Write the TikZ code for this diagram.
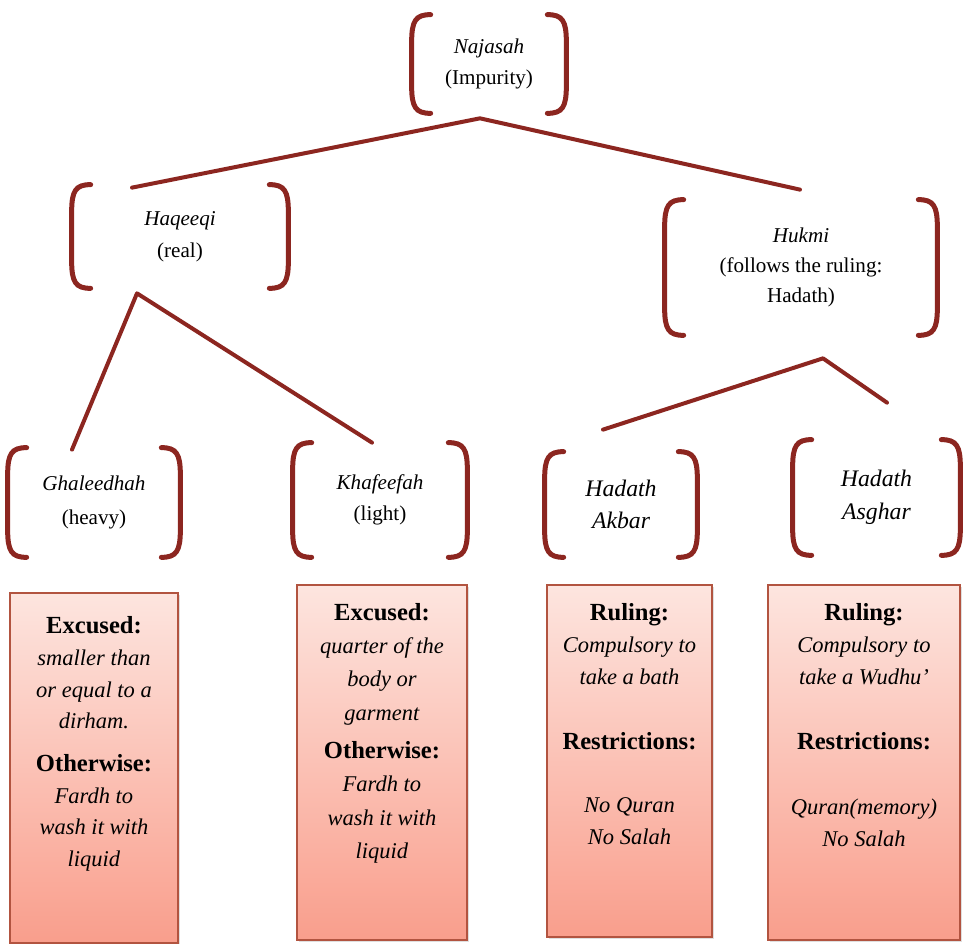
\documentclass[tikz,border=0pt]{standalone}
\usepackage{fontspec}
\setmainfont{Liberation Serif}
\usetikzlibrary{shadows}

\definecolor{bracketred}{RGB}{140,38,32}
\definecolor{boxedge}{RGB}{178,84,64}
\definecolor{boxtop}{RGB}{253,229,223}
\definecolor{boxbottom}{RGB}{249,158,140}

\tikzset{
  bracket/.style={draw=bracketred, line width=0.1cm, line cap=round},
  branch/.style={draw=bracketred, line width=0.08cm, line cap=round, line join=round},
  category/.style={rectangle, inner sep=0pt, align=center, font=\fontsize{12}{18}\selectfont},
  hadath/.style={category, font=\fontsize{13.5}{18.5}\selectfont\itshape},
  rulebox/.style={rectangle, draw=boxedge, line width=0.035cm, top color=boxtop, bottom color=boxbottom,
    inner sep=0pt, drop shadow={shadow xshift=0.04cm, shadow yshift=-0.05cm, opacity=0.25}},
  ruletext/.style={anchor=north, inner sep=0pt, align=center, font=\fontsize{12.8}{18.1}\selectfont},
}

\def\brw{0.38cm}
\def\brh{0.55cm}
\newcommand{\drawbrackets}[1]{%
  \draw[bracket] ([xshift=\brw]#1.north west) .. controls ([xshift=0.08cm]#1.north west) and ([yshift=-0.12cm]#1.north west) .. ([yshift=-\brh]#1.north west)
    -- ([yshift=\brh]#1.south west) .. controls ([yshift=0.12cm]#1.south west) and ([xshift=0.08cm]#1.south west) .. ([xshift=\brw]#1.south west);%
  \draw[bracket] ([xshift=-\brw]#1.north east) .. controls ([xshift=-0.08cm]#1.north east) and ([yshift=-0.12cm]#1.north east) .. ([yshift=-\brh]#1.north east)
    -- ([yshift=\brh]#1.south east) .. controls ([yshift=0.12cm]#1.south east) and ([xshift=-0.08cm]#1.south east) .. ([xshift=-\brw]#1.south east);%
}
\newcommand{\rulehead}[1]{{\fontsize{14}{18.1}\selectfont\bfseries #1}}

\begin{document}
\begin{tikzpicture}
            \useasboundingbox (0,0) rectangle (19.360000,18.880000);
            
            % Placing category Najasah
            \node[category, minimum width=3.08cm, minimum height=1.96cm] (najasah) at (9.780000,17.600000) {\textit{Najasah}\\(Impurity)};%
            \drawbrackets{najasah}
            
            % Placing category Haqeeqi
            \node[category, minimum width=4.32cm, minimum height=2.06cm] (haqeeqi) at (3.600000,14.150000) {\textit{Haqeeqi}\\(real)};%
            \drawbrackets{haqeeqi}
            
            % Placing category Hukmi
            \node[category, minimum width=5.44cm, minimum height=2.70cm, font=\fontsize{12}{17}\selectfont] (hukmi) at (16.020000,13.530000) {\textit{Hukmi}\\(follows the ruling:\\Hadath)};%
            \drawbrackets{hukmi}
            
            % Placing categories of the third row
            \node[category, minimum width=3.44cm, minimum height=2.18cm, font=\fontsize{12}{19.5}\selectfont] (ghaleedhah) at (1.880000,8.830000) {\textit{Ghaleedhah}\\(heavy)};%
            \drawbrackets{ghaleedhah}
            \node[category, minimum width=3.48cm, minimum height=2.28cm] (khafeefah) at (7.600000,8.880000) {\textit{Khafeefah}\\(light)};%
            \drawbrackets{khafeefah}
            \node[hadath, minimum width=3.04cm, minimum height=2.10cm] (akbar) at (12.420000,8.790000) {Hadath\\Akbar};%
            \drawbrackets{akbar}
            \node[hadath, minimum width=3.34cm, minimum height=2.30cm] (asghar) at (17.530000,8.930000) {Hadath\\Asghar};%
            \drawbrackets{asghar}
            
            % Fork points and ends of the branches
            \coordinate (najasah-fork) at ([shift={(-0.18,-0.10)}]najasah.south);
            \coordinate (haqeeqi-end) at ([shift={(-0.96,-0.06)}]haqeeqi.north);
            \coordinate (hukmi-end) at ([shift={(-0.02,0.20)}]hukmi.north);
            \coordinate (haqeeqi-fork) at ([shift={(-0.86,-0.10)}]haqeeqi.south);
            \coordinate (ghaleedhah-end) at ([shift={(-0.44,-0.04)}]ghaleedhah.north);
            \coordinate (khafeefah-end) at ([shift={(-0.16,0.00)}]khafeefah.north);
            \coordinate (hukmi-fork) at ([shift={(0.44,-0.46)}]hukmi.south);
            \coordinate (akbar-end) at ([shift={(-0.36,0.44)}]akbar.north);
            \coordinate (asghar-end) at ([shift={(0.21,0.74)}]asghar.north);
            
            % Drawing segments Haqeeqi Najasah Hukmi
            \draw[branch] (haqeeqi-end) -- (najasah-fork) -- (hukmi-end);%
            
            % Drawing segments Ghaleedhah Haqeeqi Khafeefah
            \draw[branch] (ghaleedhah-end) -- (haqeeqi-fork) -- (khafeefah-end);%
            
            % Drawing segments Akbar Hukmi Asghar
            \draw[branch] (akbar-end) -- (hukmi-fork) -- (asghar-end);%
            
            % Rule box under Ghaleedhah
            \node[rulebox, minimum width=3.36cm, minimum height=7.00cm] (box-heavy) at (1.880000,3.520000) {};%
            \node[ruletext] (text-heavy) at ([yshift=-0.48cm]box-heavy.north) {\rulehead{Excused:}\\\textit{smaller than}\\\textit{or equal to a}\\\textit{dirham.}\\[6pt]\rulehead{Otherwise:}\\\textit{Fardh to}\\\textit{wash it with}\\\textit{liquid}};%
            
            % Rule box under Khafeefah
            \node[rulebox, minimum width=3.40cm, minimum height=7.10cm] (box-light) at (7.640000,3.630000) {};%
            \node[ruletext, font=\fontsize{12.8}{18.9}\selectfont] (text-light) at ([yshift=-0.38cm]box-light.north) {\rulehead{Excused:}\\\textit{quarter of the}\\\textit{body or}\\\textit{garment}\\[3pt]\rulehead{Otherwise:}\\\textit{Fardh to}\\\textit{wash it with}\\\textit{liquid}};%
            
            % Rule box under Hadath Akbar
            \node[rulebox, minimum width=3.30cm, minimum height=7.04cm] (box-akbar) at (12.590000,3.660000) {};%
            \node[ruletext] (text-akbar) at ([yshift=-0.38cm]box-akbar.north) {\rulehead{Ruling:}\\\textit{Compulsory to}\\\textit{take a bath}\\[19pt]\rulehead{Restrictions:}\\[18pt]\textit{No Quran}\\\textit{No Salah}};%
            
            % Rule box under Hadath Asghar
            \node[rulebox, minimum width=3.84cm, minimum height=7.10cm] (box-asghar) at (17.280000,3.630000) {};%
            \node[ruletext] (text-asghar) at ([yshift=-0.38cm]box-asghar.north) {\rulehead{Ruling:}\\\textit{Compulsory to}\\\textit{take a Wudhu'}\\[19pt]\rulehead{Restrictions:}\\[19pt]\textit{Quran(memory)}\\\textit{No Salah}};%
        \end{tikzpicture}
\end{document}
